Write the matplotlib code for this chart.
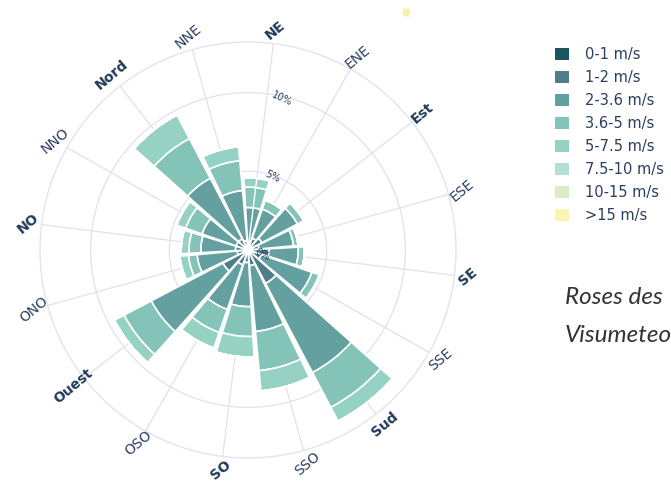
import numpy as np
import matplotlib
matplotlib.use('Agg')
from matplotlib import pyplot as plt
from matplotlib.patches import Patch
from matplotlib.lines import Line2D
from matplotlib.transforms import ScaledTranslation

# directions (clockwise from north) and speed classes
directions = ['Nord', 'NNE', 'NE', 'ENE', 'Est', 'ESE', 'SE', 'SSE',
              'Sud', 'SSO', 'SO', 'OSO', 'Ouest', 'ONO', 'NO', 'NNO']
bold_dirs = ['Nord', 'NE', 'Est', 'SE', 'Sud', 'SO', 'Ouest', 'NO']
speed_bins = ['0-1 m/s', '1-2 m/s', '2-3.6 m/s', '3.6-5 m/s',
              '5-7.5 m/s', '7.5-10 m/s', '10-15 m/s', '>15 m/s']
colors = ['#1b5560', '#4f7d89', '#64a0a0', '#84c4b8',
          '#95d2c4', '#b4ded6', '#dcecc9', '#f8f5b3']

# frequency (%) per direction for each speed class
freq_0_1 = [0.15, 0.1, 0.1, 0.1, 0.15, 0.15, 0.2, 0.2, 0.25, 0.2, 0.15, 0.15, 0.2, 0.15, 0.15, 0.15]
freq_1_2 = [0.65, 0.5, 0.4, 0.7, 0.85, 0.55, 1.15, 0.7, 2.15, 0.8, 0.65, 0.85, 1.6, 0.55, 0.65, 0.65]
freq_2_36 = [4.35, 3.2, 2.2, 1.95, 2.55, 2.2, 1.85, 3.4, 6.4, 4.2, 2.8, 3.0, 5.15, 2.55, 2.2, 2.3]
freq_36_5 = [2.85, 1.9, 1.3, 0.6, 0.45, 0.3, 0.4, 0.5, 2.5, 2.5, 1.9, 1.55, 1.95, 0.55, 0.75, 1.1]
freq_5_75 = [1.7, 0.9, 0.6, 0, 0, 0, 0, 0, 1.0, 1.3, 1.3, 1.05, 0.7, 0.55, 0.5, 0.6]
freq_75_10 = [0] * 16
freq_10_15 = [0] * 16
freq_15 = [0] * 16
all_freqs = [freq_0_1, freq_1_2, freq_2_36, freq_36_5,
             freq_5_75, freq_75_10, freq_10_15, freq_15]

radial_ticks = [0, 5, 10]
r_max = 13.22

theta = np.deg2rad(np.arange(len(directions)) * 22.5)

fig = plt.figure(figsize=(6.71, 4.86), dpi=100)
ax = fig.add_axes([0.0596, 0.0576, 0.620, 0.856], projection='polar')
ax.set_theta_direction(-1)
ax.set_theta_zero_location('N', offset=38)
ax.set_ylim(0, r_max)

grid_col = '#dfe2ec'
ax.set_xticks(theta)
ax.set_xticklabels([])
ax.set_yticks(radial_ticks)
ax.set_yticklabels([])
ax.xaxis.grid(True, color=grid_col, linewidth=0.9, zorder=0)
ax.yaxis.grid(False)
ax.spines['polar'].set_visible(False)

# circular gridlines drawn by hand
circ = np.linspace(0, 2 * np.pi, 361)
for r in [5, 10, r_max]:
    ax.plot(circ, np.full_like(circ, r), color=grid_col, linewidth=0.9,
            zorder=1, clip_on=False)

# stacked bars
bottom = np.zeros(len(directions))
for vals, c, lab in zip(all_freqs, colors, speed_bins):
    vals = np.array(vals)
    ax.bar(theta, vals, width=np.deg2rad(20.5), bottom=bottom, color=c,
           edgecolor='white', linewidth=1.2, label=lab, zorder=2)
    bottom = bottom + vals
ax.set_ylim(0, r_max)

# white radial axis line through the NE bar
ne = directions.index('NE')
ax.plot([theta[ne], theta[ne]], [0, bottom[ne]], color='white', linewidth=1, zorder=3)

# direction labels
for t, name in zip(theta, directions):
    if name in bold_dirs:
        ax.text(t, 14.1, name, rotation=40, ha='center', va='center',
                fontsize=10, fontweight='bold', color='#1f3a5a')
    else:
        ax.text(t, 14.1, name, rotation=40, ha='center', va='center',
                fontsize=10, color='#2a3f5f')

# radial tick labels
offset = ScaledTranslation(0.15, -0.05, fig.dpi_scale_trans)
for r in radial_ticks:
    ax.text(theta[ne], r, f'{r}%', transform=ax.transData + offset,
            rotation=-25, ha='center', va='center', fontsize=7,
            color='#2a3f5f', zorder=4)

# legend
handles = [Patch(facecolor=c, edgecolor='none', label=l) for c, l in zip(colors, speed_bins)]
leg = fig.legend(handles=handles, loc='upper left', bbox_to_anchor=(0.819, 0.915),
                 frameon=False, fontsize=10.5, handlelength=0.9, handleheight=0.9,
                 handletextpad=1.1, labelspacing=0.55, borderaxespad=0)
for txt in leg.get_texts():
    txt.set_color('#2a3f5f')

# stray yellow marker at top
fig.add_artist(Line2D([406 / 671], [1 - 12 / 486], marker=(4, 0, 30), markersize=6,
                      color='#f7f0a8', linestyle='none', transform=fig.transFigure))

# side text
fig.text(565 / 671, 1 - 297 / 486, 'Roses des', fontsize=17.5, style='italic',
         family='Lato', color='#333333', va='center', ha='left')
fig.text(565 / 671, 1 - 335 / 486, 'Visumeteo', fontsize=17.5, style='italic',
         family='Lato', color='#333333', va='center', ha='left')

fig.savefig('out.png', dpi=100)
